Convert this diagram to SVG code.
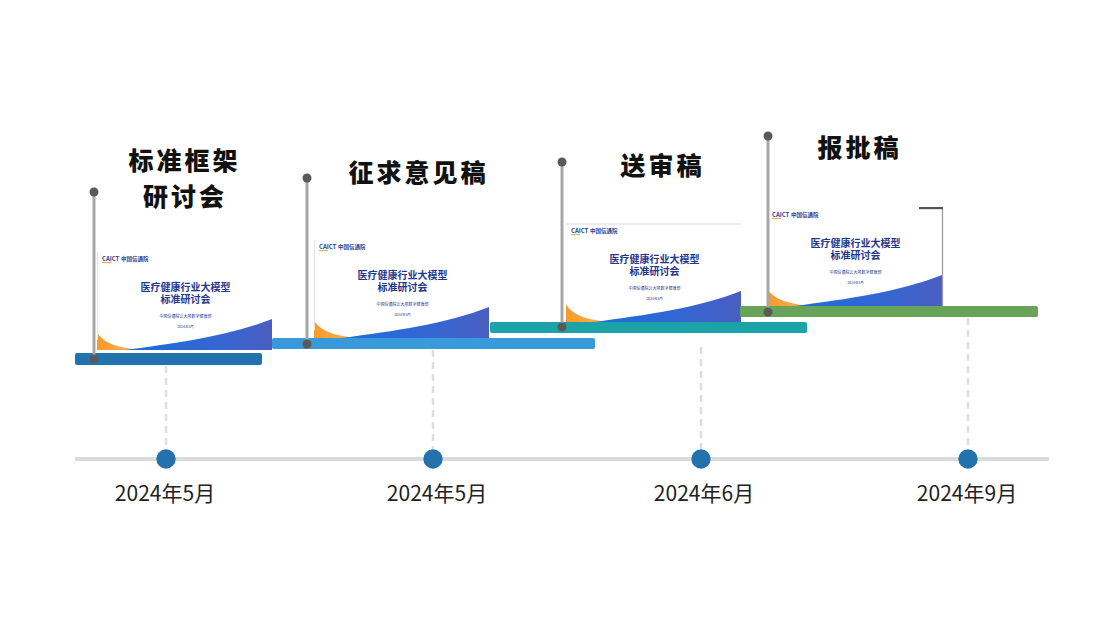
<svg xmlns="http://www.w3.org/2000/svg" xmlns:xlink="http://www.w3.org/1999/xlink" width="1106" height="623" viewBox="0 0 1106 623">
<style>
.title{font-family:"Noto Sans CJK SC","Noto Sans",sans-serif;font-weight:900;font-size:25px;fill:#111;letter-spacing:3px;text-anchor:middle}
.date{font-family:"Noto Sans CJK SC","Noto Sans",sans-serif;font-size:21px;fill:#222;text-anchor:middle}
.pole{stroke:#a6a6a6;stroke-width:3}
.dot{fill:#595959}
.dash{stroke:#dedede;stroke-width:2.5;stroke-dasharray:7 5}
.marker{fill:#2372ae}
.ct{font-family:"Noto Sans CJK SC","Noto Sans",sans-serif;font-weight:700;font-size:10px;fill:#23358c;text-anchor:middle}
.cs{font-family:"Noto Sans CJK SC","Noto Sans",sans-serif;font-size:4px;fill:#23358c;text-anchor:middle}
.cd{font-family:"Noto Sans CJK SC","Noto Sans",sans-serif;font-size:3.5px;fill:#23358c;text-anchor:middle}
.lg{font-family:"Noto Sans CJK SC","Noto Sans",sans-serif;font-weight:700;font-size:6px;fill:#1f3f95}
</style>
<defs>
<linearGradient id="gOr" x1="0" y1="0" x2="1" y2="0">
<stop offset="0" stop-color="#f59a2a"/><stop offset="1" stop-color="#fbb65a"/>
</linearGradient>
<linearGradient id="gBl" x1="0" y1="0" x2="1" y2="0">
<stop offset="0" stop-color="#1a6fda"/><stop offset="0.6" stop-color="#3566d2"/><stop offset="1" stop-color="#4a5ec2"/>
</linearGradient>
<g id="cover">
<rect x="0" y="0" width="175" height="100" fill="#fff"/>
<text class="lg" x="5" y="11">CAICT</text>
<rect x="5" y="12.2" width="9" height="0.9" fill="#f39a2c"/>
<text class="lg" x="24" y="11" style="font-size:5.5px">中国信通院</text>
<text class="ct" x="88.5" y="41">医疗健康行业大模型</text>
<text class="ct" x="88.5" y="53">标准研讨会</text>
<text class="cs" x="88.5" y="67.5">中国信通院云大所数字健康部</text>
<text class="cd" x="88.5" y="77.5">2024年5月</text>
<path d="M0,82 C6,94 25,99 48,100 L0,100 Z" fill="url(#gOr)"/>
<path d="M28,100 C80,93 132,86 175,69 L175,100 Z" fill="url(#gBl)"/>
</g>
</defs>
<rect width="1106" height="623" fill="#fff"/>

<g id="connectors">
<line x1="75" y1="459" x2="1049" y2="459" stroke="#dadada" stroke-width="4"/>
<line class="dash" x1="166" y1="366" x2="166" y2="449"/>
<line class="dash" x1="433" y1="350" x2="433" y2="449"/>
<line class="dash" x1="701" y1="347" x2="701" y2="449"/>
<line class="dash" x1="968" y1="318" x2="968" y2="449"/>
</g>

<g id="stage1">
<rect x="75" y="353" width="187" height="12" rx="2" fill="#2372b0"/>
<use xlink:href="#cover" href="#cover" x="97" y="250"/>
<line x1="97.5" y1="252" x2="97.5" y2="340" stroke="#e6e6e6" stroke-width="1"/>
<text class="title" x="184.5" y="170">标准框架</text>
<text class="title" x="185" y="206">研讨会</text>
<line class="pole" x1="94" y1="192" x2="94" y2="359"/>
<circle class="dot" cx="94" cy="192" r="4.5"/>
<circle class="dot" cx="94" cy="359" r="4.5"/>
</g>

<g id="stage2">
<rect x="272" y="338" width="323" height="11" rx="2" fill="#3899db"/>
<use xlink:href="#cover" href="#cover" x="314" y="238"/>
<line x1="314.5" y1="240" x2="314.5" y2="330" stroke="#e2e2e2" stroke-width="1"/>
<text class="title" x="418.5" y="182">征求意见稿</text>
<line class="pole" x1="307" y1="178" x2="307" y2="344"/>
<circle class="dot" cx="307" cy="178" r="4.5"/>
<circle class="dot" cx="307" cy="344" r="4.5"/>
</g>

<g id="stage3">
<rect x="490" y="322" width="317" height="11" rx="2" fill="#1ba3a8"/>
<use xlink:href="#cover" href="#cover" x="566" y="222"/>
<line x1="566" y1="224" x2="741" y2="224" stroke="#dcdcdc" stroke-width="1.2"/>
<text class="title" x="662.5" y="175">送审稿</text>
<line class="pole" x1="562" y1="162" x2="562" y2="327"/>
<circle class="dot" cx="562" cy="162" r="4.5"/>
<circle class="dot" cx="562" cy="327" r="4.5"/>
</g>

<g id="stage4">
<rect x="740" y="306" width="298" height="11" rx="2" fill="#68a35a"/>
<use xlink:href="#cover" href="#cover" x="767" y="206"/>
<line x1="942.5" y1="208" x2="942.5" y2="306" stroke="#9a9a9a" stroke-width="1.3"/>
<rect x="919" y="207" width="24" height="2.2" fill="#555"/>
<text class="title" x="859.5" y="157">报批稿</text>
<line class="pole" x1="768" y1="136" x2="768" y2="312"/>
<circle class="dot" cx="768" cy="136" r="4.5"/>
<circle class="dot" cx="768" cy="312" r="4.5"/>
</g>

<g id="date1">
<circle class="marker" cx="166" cy="459" r="9.7"/>
<text class="date" x="165" y="501">2024年5月</text>
</g>
<g id="date2">
<circle class="marker" cx="433" cy="459" r="9.7"/>
<text class="date" x="437" y="501">2024年5月</text>
</g>
<g id="date3">
<circle class="marker" cx="701" cy="459" r="9.7"/>
<text class="date" x="704" y="501">2024年6月</text>
</g>
<g id="date4">
<circle class="marker" cx="968" cy="459" r="9.7"/>
<text class="date" x="967" y="501">2024年9月</text>
</g>
</svg>
